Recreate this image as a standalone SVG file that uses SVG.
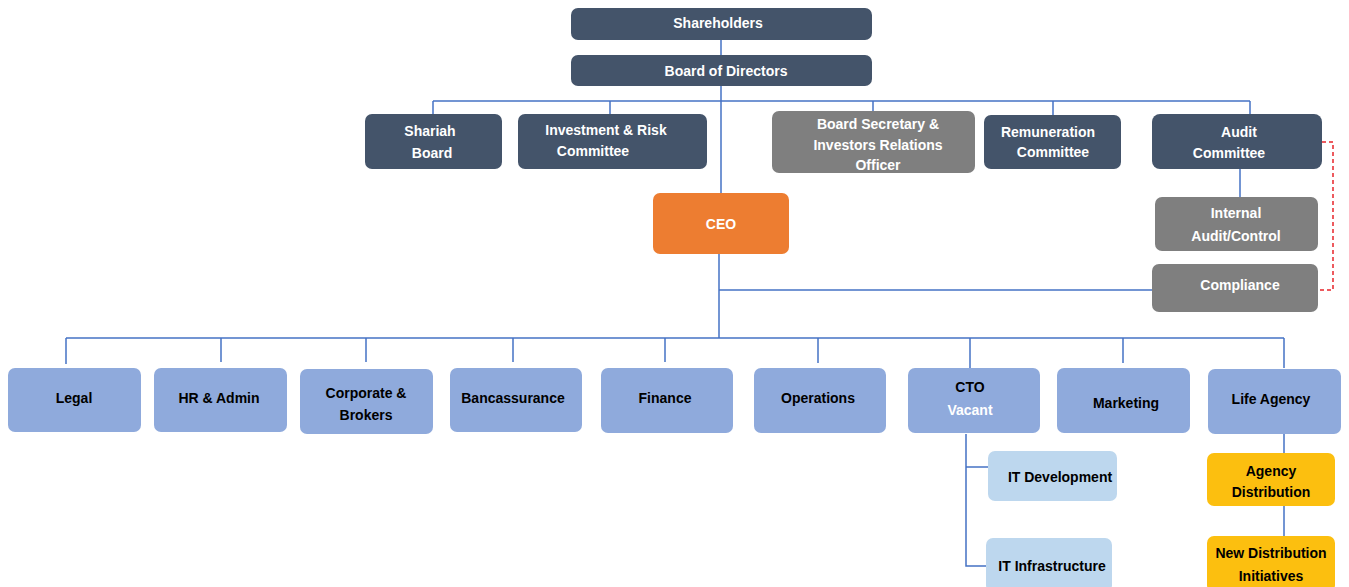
<svg xmlns="http://www.w3.org/2000/svg" width="1349" height="587" viewBox="0 0 1349 587">
<style>
text{font-family:"Liberation Sans",Arial,sans-serif;font-weight:bold;font-size:14px;text-anchor:middle;dominant-baseline:central}
.dark rect{fill:#44546a}
.gray rect{fill:#7f7f7f}
.dark text,.gray text,.ceo text{fill:#ffffff}
.ceo rect{fill:#ed7d31}
.blue rect{fill:#8faadc}
.blue text,.light text,.gold text{fill:#000000}
.light rect{fill:#bdd7ee}
.gold rect{fill:#fcbf0f}
.conn line,.conn polyline{stroke:#4472c4;stroke-width:1.5;fill:none}
.conn .dash{stroke:#e8242a;stroke-dasharray:4 3}
</style>
<rect width="1349" height="587" fill="#ffffff"/>
<g class="conn" id="connectors">
<line x1="721" y1="40" x2="721" y2="55"/>
<line x1="721" y1="86" x2="721" y2="193"/>
<line x1="433" y1="101" x2="1250" y2="101"/>
<line x1="433" y1="101" x2="433" y2="114"/>
<line x1="610" y1="101" x2="610" y2="114"/>
<line x1="873" y1="101" x2="873" y2="111"/>
<line x1="1053" y1="101" x2="1053" y2="115"/>
<line x1="1250" y1="101" x2="1250" y2="114"/>
<line x1="1240" y1="169" x2="1240" y2="197"/>
<polyline class="dash" points="1322,142 1333,142 1333,290 1319,290"/>
<line x1="719" y1="254" x2="719" y2="338"/>
<line x1="719" y1="290" x2="1152" y2="290"/>
<line x1="66" y1="338" x2="1284" y2="338"/>
<line x1="66" y1="338" x2="66" y2="364"/>
<line x1="221" y1="338" x2="221" y2="362"/>
<line x1="366" y1="338" x2="366" y2="362"/>
<line x1="513" y1="338" x2="513" y2="362"/>
<line x1="665" y1="338" x2="665" y2="362"/>
<line x1="818" y1="338" x2="818" y2="363"/>
<line x1="970" y1="338" x2="970" y2="368"/>
<line x1="1123" y1="338" x2="1123" y2="363"/>
<line x1="1284" y1="338" x2="1284" y2="368"/>
<polyline points="966,434 966,566 988,566"/>
<line x1="966" y1="467" x2="988" y2="467"/>
<line x1="1284" y1="434" x2="1284" y2="453"/>
<line x1="1284" y1="506" x2="1284" y2="536"/>
</g>
<g id="shareholders" class="dark"><rect x="571" y="8" width="301" height="32" rx="7"/><text x="718" y="23">Shareholders</text></g>
<g id="board" class="dark"><rect x="571" y="55" width="301" height="31" rx="7"/><text x="726" y="71">Board of Directors</text></g>
<g id="shariah" class="dark"><rect x="365" y="114" width="137" height="55" rx="7"/><text x="430" y="131">Shariah</text><text x="432" y="153">Board</text></g>
<g id="investment" class="dark"><rect x="518" y="114" width="189" height="55" rx="7"/><text x="606" y="130">Investment &amp; Risk</text><text x="593" y="151">Committee</text></g>
<g id="secretary" class="gray"><rect x="772" y="111" width="203" height="62" rx="7"/><text x="878" y="124">Board Secretary &amp;</text><text x="878" y="145">Investors Relations</text><text x="878" y="165">Officer</text></g>
<g id="remuneration" class="dark"><rect x="984" y="115" width="137" height="54" rx="7"/><text x="1048" y="132">Remuneration</text><text x="1053" y="152">Committee</text></g>
<g id="audit" class="dark"><rect x="1152" y="114" width="170" height="55" rx="8"/><text x="1239" y="132">Audit</text><text x="1229" y="153">Committee</text></g>
<g id="internal" class="gray"><rect x="1155" y="197" width="163" height="54" rx="7"/><text x="1236" y="213">Internal</text><text x="1236" y="236">Audit/Control</text></g>
<g id="compliance" class="gray"><rect x="1152" y="264" width="166" height="48" rx="7"/><text x="1240" y="285">Compliance</text></g>
<g id="ceo" class="ceo"><rect x="653" y="193" width="136" height="61" rx="7"/><text x="721" y="224">CEO</text></g>
<g id="legal" class="blue"><rect x="8" y="368" width="133" height="64" rx="7"/><text x="74" y="398">Legal</text></g>
<g id="hr" class="blue"><rect x="154" y="368" width="133" height="64" rx="7"/><text x="219" y="398">HR &amp; Admin</text></g>
<g id="corporate" class="blue"><rect x="300" y="369" width="133" height="65" rx="7"/><text x="366" y="393">Corporate &amp;</text><text x="366" y="415">Brokers</text></g>
<g id="bancassurance" class="blue"><rect x="450" y="368" width="132" height="64" rx="7"/><text x="513" y="398">Bancassurance</text></g>
<g id="finance" class="blue"><rect x="601" y="368" width="132" height="65" rx="7"/><text x="665" y="398">Finance</text></g>
<g id="operations" class="blue"><rect x="754" y="368" width="132" height="65" rx="7"/><text x="818" y="398">Operations</text></g>
<g id="cto" class="blue"><rect x="908" y="368" width="132" height="65" rx="7"/><text x="970" y="387">CTO</text><text x="970" y="410" style="fill:#ffffff">Vacant</text></g>
<g id="marketing" class="blue"><rect x="1057" y="368" width="133" height="65" rx="7"/><text x="1126" y="403">Marketing</text></g>
<g id="lifeagency" class="blue"><rect x="1208" y="369" width="133" height="65" rx="7"/><text x="1271" y="399">Life Agency</text></g>
<g id="itdev" class="light"><rect x="988" y="451" width="129" height="50" rx="7"/><text x="1060" y="477">IT Development</text></g>
<g id="itinfra" class="light"><rect x="986" y="538" width="126" height="54" rx="7"/><text x="1052" y="566">IT Infrastructure</text></g>
<g id="agency" class="gold"><rect x="1207" y="453" width="128" height="53" rx="7"/><text x="1271" y="471">Agency</text><text x="1271" y="492">Distribution</text></g>
<g id="newdist" class="gold"><rect x="1207" y="536" width="128" height="56" rx="7"/><text x="1271" y="553">New Distribution</text><text x="1271" y="576">Initiatives</text></g>
</svg>
